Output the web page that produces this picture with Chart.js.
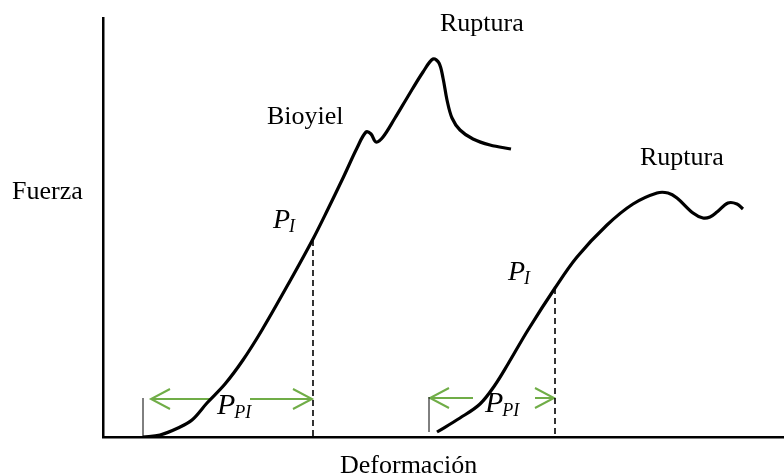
<!DOCTYPE html>
<html>
<head>
<meta charset="utf-8">
<script src="https://cdn.jsdelivr.net/npm/chart.js@4/dist/chart.umd.min.js"></script>
<style>
  body { margin: 0; background: #fff; }
  canvas { display: block; }
</style>
</head>
<body>
<canvas id="curvaChart" width="784" height="473"></canvas>
<script>
// deformación (x) vs fuerza (y), unidades arbitrarias
const curvaA = [
  [40, 0], [57, 2], [75, 9], [89, 17], [104, 34], [122, 53], [140, 77], [159, 107],
  [187, 156], [210, 198], [225, 228], [240, 259], [254, 289], [263, 305], [268, 303], [273, 295],
  [280, 300], [292, 319], [304, 339], [320, 365], [330, 378], [336, 374], [340, 359],
  [344, 337], [349, 319], [357, 307], [370, 298], [387, 292], [408, 288]
];
const curvaB = [
  [334, 5], [357, 19], [377, 33], [392, 52], [405, 73], [425, 107], [452, 149],
  [474, 180], [504, 212], [530, 233], [554, 244], [565, 244], [574, 239], [590, 224],
  [600, 219], [607, 220], [614, 225], [625, 234], [634, 233], [640, 228]
];
// punto PI de cada curva
const puntoPI = [[210, 197], [452, 149]];
// marca vertical al inicio de cada curva: [x, desde, hasta]
const inicio = [[40, 0, 39], [326, 5, 40]];
// flechas P_PI: [desde, hasta, altura, hueco izq, hueco der]
const flechas = [
  [48, 209, 38, 108, 147],
  [327, 451, 39, 370, 432]
];

const negro = '#000';
const verde = '#70ad47';

const pts = arr => arr.map(p => ({ x: p[0], y: p[1] }));

const datasets = [
  { data: pts(curvaA), borderColor: negro, borderWidth: 3.2, tension: 0.35 },
  { data: pts(curvaB), borderColor: negro, borderWidth: 3.2, tension: 0.35 }
];

puntoPI.forEach(p => {
  datasets.push({ data: pts([[p[0], p[1]], [p[0], 0]]), borderColor: negro, borderWidth: 1.6, borderDash: [6, 4] });
});
inicio.forEach(p => {
  datasets.push({ data: pts([[p[0], p[1]], [p[0], p[2]]]), borderColor: negro, borderWidth: 1 });
});
flechas.forEach(f => {
  const [a, b, y, g1, g2] = f;
  const ala = 19, abre = 10;
  datasets.push({ data: pts([[a, y], [g1, y]]), borderColor: verde, borderWidth: 2 });
  datasets.push({ data: pts([[g2, y], [b, y]]), borderColor: verde, borderWidth: 2 });
  datasets.push({ data: pts([[a + ala, y + abre], [a, y], [a + ala, y - abre]]), borderColor: verde, borderWidth: 2 });
  datasets.push({ data: pts([[b - ala, y + abre], [b, y], [b - ala, y - abre]]), borderColor: verde, borderWidth: 2 });
});

// textos: [texto, x, y]
const textos = [
  ['Ruptura', 337, 406],
  ['Bioyiel', 164, 313],
  ['Ruptura', 537, 272],
  ['Fuerza', -91, 238],
  ['Deformación', 237, -36]
];
// etiquetas P con subíndice: [texto, x, y, subíndice, tamaño]
const etiquetasP = [
  ['P', 170, 209, 'I', 28],
  ['P', 405, 157, 'I', 28],
  ['P', 114, 23, 'PI', 30],
  ['P', 382, 25, 'PI', 30]
];

const textosPlugin = {
  id: 'textos',
  afterDraw(chart) {
    const { ctx, scales } = chart;
    ctx.save();
    ctx.fillStyle = negro;
    ctx.textBaseline = 'alphabetic';
    ctx.textAlign = 'left';
    ctx.font = '26px "Liberation Serif"';
    textos.forEach(t => {
      ctx.fillText(t[0], scales.x.getPixelForValue(t[1]), scales.y.getPixelForValue(t[2]));
    });
    etiquetasP.forEach(t => {
      const px = scales.x.getPixelForValue(t[1]);
      const py = scales.y.getPixelForValue(t[2]);
      ctx.font = 'italic ' + t[4] + 'px "Liberation Serif"';
      ctx.fillText(t[0], px, py);
      const w = ctx.measureText(t[0]).width;
      ctx.font = 'italic 18px "Liberation Serif"';
      ctx.fillText(t[3], px + w - 1, py + 4);
    });
    ctx.restore();
  }
};

new Chart(document.getElementById('curvaChart'), {
  type: 'scatter',
  data: { datasets },
  options: {
    responsive: false,
    animation: false,
    showLine: true,
    layout: { padding: { left: 103, top: 18, right: 0, bottom: 36 } },
    elements: { point: { radius: 0 }, line: { fill: false, capBezierPoints: true } },
    plugins: { legend: { display: false }, tooltip: { enabled: false } },
    scales: {
      x: {
        min: 0, max: 681,
        ticks: { display: false },
        grid: { display: false, drawTicks: false },
        border: { color: negro, width: 2.5 }
      },
      y: {
        min: 0, max: 419,
        ticks: { display: false },
        grid: { display: false, drawTicks: false },
        border: { color: negro, width: 2.5 }
      }
    }
  },
  plugins: [textosPlugin]
});
</script>
</body>
</html>
